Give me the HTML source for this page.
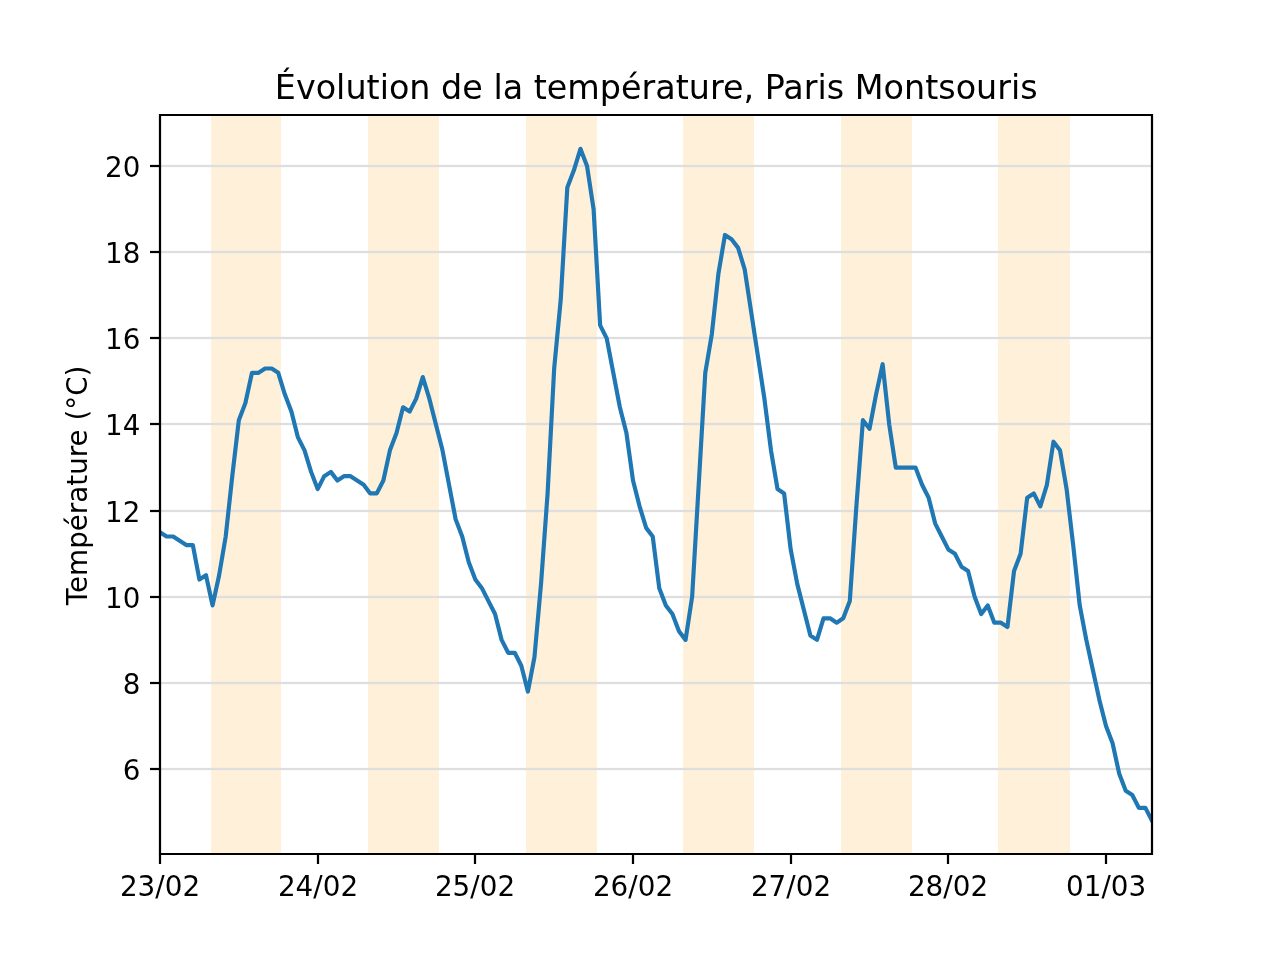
<!DOCTYPE html>
<html lang="fr">
<head>
<meta charset="utf-8">
<title>Évolution de la température, Paris Montsouris</title>
<style>
html,body{margin:0;padding:0;background:#fff;}
body{width:1280px;height:960px;overflow:hidden;}
svg{display:block;}
text{font-family:"DejaVu Sans","Liberation Sans",sans-serif;fill:#000;}
.xt{font-size:27.828px;}
.yt{font-size:27.728px;}
.yl{font-size:27.778px;}
.title{font-size:33.383px;}
</style>
</head>
<body>
<svg width="1280" height="960" viewBox="0 0 1280 960">
<rect x="0" y="0" width="1280" height="960" fill="#ffffff"/>
<clipPath id="ax"><rect x="160.0" y="115.2" width="992.0" height="739.2"/></clipPath>
<g fill="#fff1d9" shape-rendering="crispEdges">
<rect x="211" y="115" width="70" height="739"/>
<rect x="368" y="115" width="71" height="739"/>
<rect x="526" y="115" width="71" height="739"/>
<rect x="683" y="115" width="71" height="739"/>
<rect x="841" y="115" width="71" height="739"/>
<rect x="998" y="115" width="72" height="739"/>
</g>
<g stroke="#dedede" stroke-opacity="0.12" stroke-width="4" fill="none" shape-rendering="crispEdges">
<line x1="160" x2="1152" y1="166" y2="166"/>
<line x1="160" x2="1152" y1="252" y2="252"/>
<line x1="160" x2="1152" y1="338" y2="338"/>
<line x1="160" x2="1152" y1="424" y2="424"/>
<line x1="160" x2="1152" y1="511" y2="511"/>
<line x1="160" x2="1152" y1="597" y2="597"/>
<line x1="160" x2="1152" y1="683" y2="683"/>
<line x1="160" x2="1152" y1="769" y2="769"/>
</g>
<g stroke="#dedede" stroke-width="2" fill="none" shape-rendering="crispEdges">
<line x1="160" x2="1152" y1="166" y2="166"/>
<line x1="160" x2="1152" y1="252" y2="252"/>
<line x1="160" x2="1152" y1="338" y2="338"/>
<line x1="160" x2="1152" y1="424" y2="424"/>
<line x1="160" x2="1152" y1="511" y2="511"/>
<line x1="160" x2="1152" y1="597" y2="597"/>
<line x1="160" x2="1152" y1="683" y2="683"/>
<line x1="160" x2="1152" y1="769" y2="769"/>
</g>
<polyline clip-path="url(#ax)" points="160.00,532.18 166.57,536.49 173.14,536.49 179.71,540.80 186.28,545.11 192.85,545.11 199.42,579.57 205.99,575.26 212.56,605.42 219.13,575.26 225.70,536.49 232.26,476.18 238.83,420.18 245.40,402.95 251.97,372.80 258.54,372.80 265.11,368.49 271.68,368.49 278.25,372.80 284.82,394.34 291.39,411.57 297.96,437.42 304.53,450.34 311.10,471.88 317.67,489.11 324.24,476.18 330.81,471.88 337.38,480.49 343.95,476.18 350.52,476.18 357.09,480.49 363.66,484.80 370.23,493.42 376.79,493.42 383.36,480.49 389.93,450.34 396.50,433.11 403.07,407.26 409.64,411.57 416.21,398.65 422.78,377.11 429.35,398.65 435.92,424.49 442.49,450.34 449.06,484.80 455.63,519.26 462.20,536.49 468.77,562.34 475.34,579.57 481.91,588.18 488.48,601.11 495.05,614.03 501.62,639.88 508.19,652.80 514.75,652.80 521.32,665.72 527.89,691.57 534.46,657.11 541.03,583.88 547.60,493.42 554.17,368.49 560.74,299.57 567.31,187.57 573.88,170.34 580.45,148.80 587.02,166.03 593.59,209.11 600.16,325.42 606.73,338.34 613.30,372.80 619.87,407.26 626.44,433.11 633.01,480.49 639.58,506.34 646.15,527.88 652.72,536.49 659.28,588.18 665.85,605.42 672.42,614.03 678.99,631.26 685.56,639.88 692.13,596.80 698.70,484.80 705.27,372.80 711.84,334.03 718.41,273.72 724.98,234.95 731.55,239.26 738.12,247.88 744.69,269.42 751.26,312.49 757.83,355.57 764.40,398.65 770.97,450.34 777.54,489.11 784.11,493.42 790.68,549.42 797.25,583.88 803.81,609.72 810.38,635.57 816.95,639.88 823.52,618.34 830.09,618.34 836.66,622.65 843.23,618.34 849.80,601.11 856.37,506.34 862.94,420.18 869.51,428.80 876.08,394.34 882.65,364.18 889.22,424.49 895.79,467.57 902.36,467.57 908.93,467.57 915.50,467.57 922.07,484.80 928.64,497.72 935.21,523.57 941.77,536.49 948.34,549.42 954.91,553.72 961.48,566.65 968.05,570.95 974.62,596.80 981.19,614.03 987.76,605.42 994.33,622.65 1000.90,622.65 1007.47,626.95 1014.04,570.95 1020.61,553.72 1027.18,497.72 1033.75,493.42 1040.32,506.34 1046.89,484.80 1053.46,441.72 1060.03,450.34 1066.60,489.11 1073.17,545.11 1079.74,605.42 1086.30,639.88 1092.87,670.03 1099.44,700.18 1106.01,726.03 1112.58,743.26 1119.15,773.42 1125.72,790.65 1132.29,794.95 1138.86,807.88 1145.43,807.88 1152.00,820.80" fill="none" stroke="#1f77b4" stroke-width="4.1667" stroke-linejoin="round" stroke-linecap="square"/>
<g stroke="#000" stroke-width="2.222" fill="none">
<line x1="160" x2="160" y1="854" y2="864"/>
<line x1="318" x2="318" y1="854" y2="864"/>
<line x1="475" x2="475" y1="854" y2="864"/>
<line x1="633" x2="633" y1="854" y2="864"/>
<line x1="791" x2="791" y1="854" y2="864"/>
<line x1="948" x2="948" y1="854" y2="864"/>
<line x1="1106" x2="1106" y1="854" y2="864"/>
<line x1="150" x2="160" y1="166" y2="166"/>
<line x1="150" x2="160" y1="252" y2="252"/>
<line x1="150" x2="160" y1="338" y2="338"/>
<line x1="150" x2="160" y1="424" y2="424"/>
<line x1="150" x2="160" y1="511" y2="511"/>
<line x1="150" x2="160" y1="597" y2="597"/>
<line x1="150" x2="160" y1="683" y2="683"/>
<line x1="150" x2="160" y1="769" y2="769"/>
<path d="M160 113.9V855.1M1152 113.9V855.1M158.9 115H1153.1M158.9 854H1153.1"/>
</g>
<g class="xt" text-anchor="middle">
<text x="160.00" y="896.20">23/02</text>
<text x="318.00" y="896.20">24/02</text>
<text x="475.00" y="896.20">25/02</text>
<text x="633.00" y="896.20">26/02</text>
<text x="791.00" y="896.20">27/02</text>
<text x="948.00" y="896.20">28/02</text>
<text x="1106.10" y="896.20">01/03</text>
</g>
<g class="yt" text-anchor="end">
<text x="140.40" y="177.30">20</text>
<text x="140.40" y="263.30">18</text>
<text x="140.40" y="349.30">16</text>
<text x="140.40" y="435.30">14</text>
<text x="140.40" y="522.30">12</text>
<text x="140.40" y="608.30">10</text>
<text x="140.40" y="694.30">8</text>
<text x="140.40" y="780.30">6</text>
</g>
<text class="yl" text-anchor="middle" transform="translate(87.00 485.40) rotate(-90)">Température (°C)</text>
<text class="title" text-anchor="middle" x="656.25" y="98.55">Évolution de la température, Paris Montsouris</text>
</svg>
</body>
</html>
